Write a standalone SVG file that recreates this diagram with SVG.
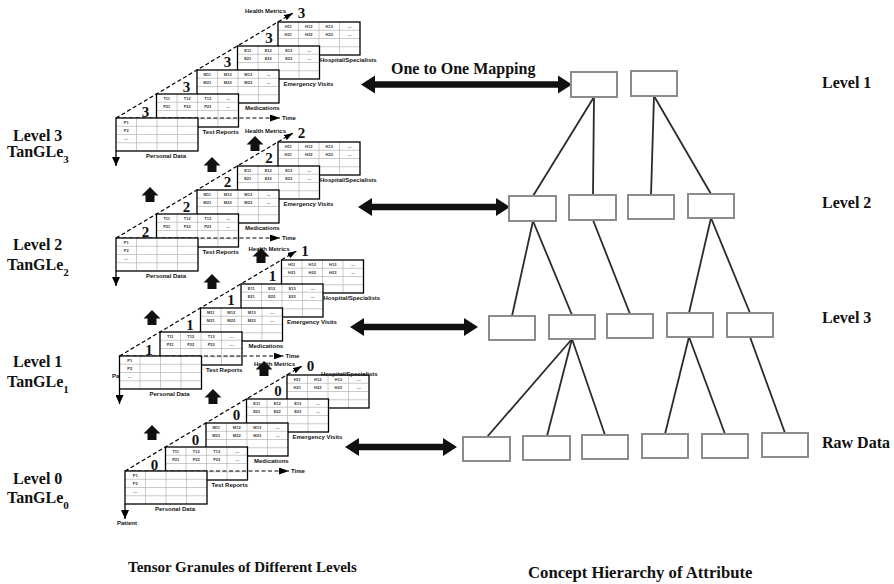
<svg xmlns="http://www.w3.org/2000/svg" width="894" height="584" viewBox="0 0 894 584">
  <style>
    .gl { stroke: #b4b4b4; stroke-width: 0.7; fill: none; }
    .cell { font-family: "Liberation Sans", Arial, sans-serif; font-size: 4px; font-weight: bold; fill: #333; text-anchor: middle; }
    .lbl { font-family: "Liberation Sans", Arial, sans-serif; font-size: 6px; font-weight: bold; fill: #111; }
    .dg { font-family: "Liberation Serif", "Times New Roman", serif; font-size: 15px; font-weight: bold; text-anchor: middle; fill: #111; }
    .axis { stroke: #000; stroke-width: 1.2; stroke-dasharray: 4 2.5; fill: none; }
    .big { font-family: "Liberation Serif", "Times New Roman", serif; font-weight: bold; font-size: 16px; fill: #111; }
    .node { fill: #fff; stroke: #8c8c8c; stroke-width: 2; }
    .edge { stroke: #2b2b2b; stroke-width: 1.8; fill: none; }
    .blk { fill: #111; }
  </style>
  <defs>
    <marker id="ah" viewBox="0 0 10 7" refX="10" refY="3.5" markerWidth="10" markerHeight="7" markerUnits="userSpaceOnUse" orient="auto">
      <path d="M0,0L10,3.5L0,7Z" fill="#000"/>
    </marker>
    <marker id="ahd" viewBox="0 0 9 6" refX="9" refY="3" markerWidth="9" markerHeight="6" markerUnits="userSpaceOnUse" orient="auto">
      <path d="M0,0L9,3L0,6Z" fill="#000"/>
    </marker>
    <marker id="ahp" viewBox="0 0 9 8" refX="9" refY="4" markerWidth="9" markerHeight="8" markerUnits="userSpaceOnUse" orient="auto">
      <path d="M0,0L9,4L0,8Z" fill="#000"/>
    </marker>

    <!-- 4x4 table frame -->
    <g id="grid">
      <rect width="82" height="33" fill="#fff"/>
      <path class="gl" d="M20.5 0V33M41 0V33M61.5 0V33M0 8.25H82M0 16.5H82M0 24.75H82"/>
      <rect width="82" height="33" fill="none" stroke="#000" stroke-width="1.3"/>
    </g>

    <g id="tPD">
      <use href="#grid"/>
      <text class="cell" x="10.25" y="5.7">P1</text>
      <text class="cell" x="10.25" y="13.9">P2</text>
      <text class="cell" x="10.25" y="22.1">---</text>
    </g>
    <g id="tTR">
      <use href="#grid"/>
      <text class="cell" x="10.25" y="5.7">T11</text><text class="cell" x="30.75" y="5.7">T12</text><text class="cell" x="51.25" y="5.7">T13</text><text class="cell" x="71.75" y="5.7">---</text>
      <text class="cell" x="10.25" y="13.9">P21</text><text class="cell" x="30.75" y="13.9">P22</text><text class="cell" x="51.25" y="13.9">P23</text><text class="cell" x="71.75" y="13.9">---</text>
    </g>
    <g id="tMD">
      <use href="#grid"/>
      <text class="cell" x="10.25" y="5.7">M11</text><text class="cell" x="30.75" y="5.7">M12</text><text class="cell" x="51.25" y="5.7">M13</text><text class="cell" x="71.75" y="5.7">---</text>
      <text class="cell" x="10.25" y="13.9">M21</text><text class="cell" x="30.75" y="13.9">M22</text><text class="cell" x="51.25" y="13.9">M23</text><text class="cell" x="71.75" y="13.9">---</text>
    </g>
    <g id="tEV">
      <use href="#grid"/>
      <text class="cell" x="10.25" y="5.7">E11</text><text class="cell" x="30.75" y="5.7">E12</text><text class="cell" x="51.25" y="5.7">E13</text><text class="cell" x="71.75" y="5.7">---</text>
      <text class="cell" x="10.25" y="13.9">E21</text><text class="cell" x="30.75" y="13.9">E22</text><text class="cell" x="51.25" y="13.9">E23</text><text class="cell" x="71.75" y="13.9">---</text>
    </g>
    <g id="tHS">
      <use href="#grid"/>
      <text class="cell" x="10.25" y="5.7">H11</text><text class="cell" x="30.75" y="5.7">H12</text><text class="cell" x="51.25" y="5.7">H13</text><text class="cell" x="71.75" y="5.7">---</text>
      <text class="cell" x="10.25" y="13.9">H21</text><text class="cell" x="30.75" y="13.9">H22</text><text class="cell" x="51.25" y="13.9">H23</text><text class="cell" x="71.75" y="13.9">---</text>
    </g>

    <!-- one tensor granule: origin at the top-left corner of the Personal Data slice -->
    <g id="stack">
      <use href="#tHS" x="162" y="-96"/>
      <use href="#tEV" x="121.5" y="-72"/>
      <use href="#tMD" x="81" y="-48"/>
      <use href="#tTR" x="40.5" y="-24"/>
      <line class="axis" x1="0" y1="0" x2="164" y2="0" marker-end="url(#ah)"/>
      <use href="#tPD" x="0" y="0"/>
      <line class="axis" x1="0" y1="0" x2="177" y2="-105" marker-end="url(#ahd)"/>
      <line x1="0" y1="33" x2="0" y2="48" stroke="#000" stroke-width="1.3" marker-end="url(#ahp)"/>
      <text class="lbl" x="30" y="40">Personal Data</text>
      <text class="lbl" x="86.5" y="16">Test Reports</text>
      <text class="lbl" x="129" y="-8">Medications</text>
      <text class="lbl" x="167.5" y="-32">Emergency Visits</text>
      <text class="lbl" x="129" y="-105">Health Metrics</text>
      <text class="lbl" x="166" y="2.2">Time</text>
    </g>

    <path id="up" d="M0,0L8.5,8.5L4.5,8.5L4.5,15L-4.5,15L-4.5,8.5L-8.5,8.5Z"/>
  </defs>

  <rect width="894" height="584" fill="#fff"/>

  <!-- tensor granules -->
  <g id="tangle-3" transform="translate(116,118)">
    <use href="#stack"/>
    <text class="lbl" x="204" y="-56">Hospital/Specialists</text>
    <text class="dg" x="29.5" y="-1.5">3</text>
    <text class="dg" x="70.5" y="-26.5">3</text>
    <text class="dg" x="111.5" y="-51">3</text>
    <text class="dg" x="153" y="-75.5">3</text>
    <text class="dg" x="185.5" y="-100">3</text>
  </g>
  <g id="tangle-2" transform="translate(116,238)">
    <use href="#stack"/>
    <text class="lbl" x="204" y="-56">Hospital/Specialists</text>
    <text class="dg" x="29.5" y="-1.5">2</text>
    <text class="dg" x="70.5" y="-26.5">2</text>
    <text class="dg" x="111.5" y="-51">2</text>
    <text class="dg" x="153" y="-75.5">2</text>
    <text class="dg" x="185.5" y="-100">2</text>
  </g>
  <g id="tangle-1" transform="translate(119.5,356)">
    <text class="lbl" x="-7.5" y="22">Patient</text>
    <use href="#stack"/>
    <text class="lbl" x="204" y="-56">Hospital/Specialists</text>
    <text class="dg" x="29.5" y="-1.5">1</text>
    <text class="dg" x="70.5" y="-26.5">1</text>
    <text class="dg" x="111.5" y="-51">1</text>
    <text class="dg" x="153" y="-75.5">1</text>
    <text class="dg" x="185.5" y="-100">1</text>
  </g>
  <g id="tangle-0" transform="translate(125,471)">
    <use href="#stack"/>
    <text class="lbl" x="196" y="-95">Hospital/Specialists</text>
    <text class="lbl" x="-8" y="54">Patient</text>
    <text class="dg" x="29.5" y="-1.5">0</text>
    <text class="dg" x="70.5" y="-26.5">0</text>
    <text class="dg" x="111.5" y="-51">0</text>
    <text class="dg" x="153" y="-75.5">0</text>
    <text class="dg" x="185.5" y="-100">0</text>
  </g>

  <!-- generalisation arrows between granule levels -->
  <g id="lift" class="blk">
    <use href="#up" x="255" y="136"/>
    <use href="#up" x="212" y="157"/>
    <use href="#up" x="150" y="187"/>
    <use href="#up" x="261" y="248"/>
    <use href="#up" x="212" y="274"/>
    <use href="#up" x="152" y="310"/>
    <use href="#up" x="264" y="361"/>
    <use href="#up" x="213" y="389"/>
    <use href="#up" x="152" y="425"/>
  </g>

  <!-- level captions, left -->
  <g id="caption-left" class="big">
    <text x="13" y="141">Level 3</text>
    <text x="7" y="157">TanGLe<tspan style="font-size:11px" dy="6">3</tspan></text>
    <text x="13" y="250">Level 2</text>
    <text x="7" y="270">TanGLe<tspan style="font-size:11px" dy="6">2</tspan></text>
    <text x="13" y="367">Level 1</text>
    <text x="7" y="387">TanGLe<tspan style="font-size:11px" dy="6">1</tspan></text>
    <text x="13" y="484">Level 0</text>
    <text x="7" y="503">TanGLe<tspan style="font-size:11px" dy="6">0</tspan></text>
  </g>

  <!-- one-to-one mapping arrows -->
  <g id="mapping" class="blk">
    <path d="M361,84.5L375,75.5L375,81.3L558,81.3L558,75.5L572,84.5L558,93.5L558,87.7L375,87.7L375,93.5Z"/>
    <path d="M358,207L372,198L372,203.8L496,203.8L496,198L510,207L496,216L496,210.2L372,210.2L372,216Z"/>
    <path d="M350,327L364,318L364,323.8L464,323.8L464,318L478,327L464,336L464,330.2L364,330.2L364,336Z"/>
    <path d="M345,447L359,438L359,443.8L443,443.8L443,438L457,447L443,456L443,450.2L359,450.2L359,456Z"/>
  </g>
  <text class="big" x="391" y="74">One to One Mapping</text>

  <!-- concept hierarchy connectors -->
  <g id="edges" class="edge">
    <line x1="594" y1="97" x2="533" y2="196"/>
    <line x1="594" y1="97" x2="593" y2="195"/>
    <line x1="654" y1="96" x2="651" y2="195"/>
    <line x1="654" y1="96" x2="711" y2="194"/>
    <line x1="533" y1="221" x2="512" y2="316"/>
    <line x1="533" y1="221" x2="572" y2="315"/>
    <line x1="593" y1="220" x2="630" y2="314"/>
    <line x1="711" y1="218" x2="689" y2="313"/>
    <line x1="711" y1="218" x2="750" y2="313"/>
    <line x1="572" y1="339" x2="487" y2="437"/>
    <line x1="572" y1="339" x2="547" y2="436"/>
    <line x1="572" y1="339" x2="605" y2="435"/>
    <line x1="689" y1="337" x2="665" y2="434"/>
    <line x1="689" y1="337" x2="725" y2="434"/>
    <line x1="750" y1="337" x2="785" y2="433"/>
  </g>

  <!-- concept hierarchy nodes -->
  <g id="h1-a"><rect class="node" x="571" y="72" width="46" height="25"/></g>
  <g id="h1-b"><rect class="node" x="631" y="71" width="46" height="25"/></g>
  <g id="h2-a"><rect class="node" x="509" y="196" width="47" height="25"/></g>
  <g id="h2-b"><rect class="node" x="569" y="195" width="47" height="25"/></g>
  <g id="h2-c"><rect class="node" x="628" y="195" width="46" height="24"/></g>
  <g id="h2-d"><rect class="node" x="688" y="194" width="46" height="24"/></g>
  <g id="h3-a"><rect class="node" x="489" y="316" width="46" height="24"/></g>
  <g id="h3-b"><rect class="node" x="549" y="315" width="46" height="24"/></g>
  <g id="h3-c"><rect class="node" x="607" y="314" width="46" height="24"/></g>
  <g id="h3-d"><rect class="node" x="667" y="313" width="46" height="24"/></g>
  <g id="h3-e"><rect class="node" x="727" y="313" width="46" height="24"/></g>
  <g id="raw-a"><rect class="node" x="463" y="437" width="47" height="24"/></g>
  <g id="raw-b"><rect class="node" x="523" y="436" width="47" height="24"/></g>
  <g id="raw-c"><rect class="node" x="582" y="435" width="46" height="24"/></g>
  <g id="raw-d"><rect class="node" x="642" y="434" width="46" height="24"/></g>
  <g id="raw-e"><rect class="node" x="702" y="434" width="46" height="24"/></g>
  <g id="raw-f"><rect class="node" x="762" y="433" width="46" height="24"/></g>

  <!-- level captions, right -->
  <g id="caption-right" class="big">
    <text x="822" y="88">Level 1</text>
    <text x="822" y="208">Level 2</text>
    <text x="822" y="323">Level 3</text>
    <text x="822" y="448">Raw Data</text>
  </g>

  <!-- panel titles -->
  <text class="big" x="128" y="572" style="font-size:15px">Tensor Granules of Different Levels</text>
  <text class="big" x="528" y="578" style="font-size:16.7px">Concept Hierarchy of Attribute</text>
</svg>
